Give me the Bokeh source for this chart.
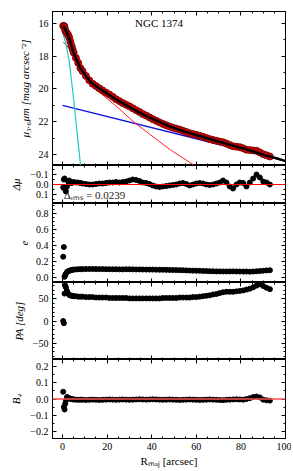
from bokeh.plotting import figure
from bokeh.models import Range1d, LinearAxis, FixedTicker, Label, Span
from bokeh.layouts import column
from bokeh.embed import file_html
from bokeh.resources import INLINE

# ---------------- data ----------------
R = [0.3, 0.6, 0.9, 1.2, 1.5, 2.0, 2.5, 3.0, 3.5, 4.0, 4.5, 5.0,
     6.0, 7.0, 8.0, 9.0, 10.5, 12.0, 13.5, 15.0, 16.5, 18.0, 19.5, 21.0,
     22.5, 24.0, 25.5, 27.0, 28.5, 30.0, 31.5, 33.0, 34.5, 36.0, 37.5, 39.0,
     40.5, 42.0, 43.5, 45.0, 46.5, 48.0, 49.5, 51.0, 52.5, 54.0, 55.5, 57.0,
     58.5, 60.0, 61.5, 63.0, 64.5, 66.0, 67.5, 69.0, 70.5, 72.0, 73.5, 75.0,
     76.5, 78.0, 79.5, 81.0, 82.5, 84.0, 85.5, 87.0, 88.5, 90.0, 91.5, 93.0]

mu_data = [16.15, 16.15, 16.21, 16.41, 16.51, 16.60, 16.71, 16.86, 17.10, 17.34, 17.56, 17.78,
           18.10, 18.40, 18.72, 18.91, 19.20, 19.47, 19.68, 19.82, 19.96, 20.09, 20.22, 20.34,
           20.48, 20.62, 20.74, 20.86, 20.96, 21.06, 21.17, 21.29, 21.40, 21.53, 21.62, 21.73,
           21.84, 21.94, 22.04, 22.13, 22.21, 22.29, 22.36, 22.42, 22.48, 22.55, 22.62, 22.70,
           22.75, 22.80, 22.86, 22.92, 22.99, 23.06, 23.11, 23.16, 23.21, 23.25, 23.33, 23.42,
           23.50, 23.52, 23.55, 23.62, 23.71, 23.73, 23.75, 23.77, 23.87, 23.98, 24.05, 24.12]

dmu = [0.03, -0.05, -0.06, 0.05, 0.07, 0.02, -0.03, -0.04, -0.02, -0.015, -0.02, -0.025,
       -0.02, -0.02, -0.015, -0.01, -0.005, 0.0, 0.0, -0.005, -0.01, -0.01, -0.015, -0.02,
       -0.02, -0.025, -0.02, -0.025, -0.03, -0.04, -0.05, -0.045, -0.035, -0.02, -0.015, -0.005,
       0.01, 0.02, 0.025, 0.02, 0.015, 0.01, 0.005, 0.0, -0.01, -0.015, -0.005, 0.01,
       0.0, -0.01, -0.015, -0.01, 0.0, 0.005, 0.0, -0.01, -0.02, -0.04, -0.02, 0.02,
       0.04, 0.0, -0.02, -0.015, 0.02, -0.02, -0.06, -0.1, -0.07, -0.03, -0.02, 0.0]

ell = [0.26, 0.38, 0.01, 0.03, 0.05, 0.07, 0.08, 0.085, 0.09, 0.095, 0.098, 0.10,
       0.102, 0.104, 0.105, 0.106, 0.107, 0.108, 0.108, 0.107, 0.106, 0.106, 0.105, 0.105,
       0.104, 0.104, 0.103, 0.103, 0.104, 0.104, 0.103, 0.102, 0.102, 0.101, 0.10, 0.10,
       0.10, 0.099, 0.098, 0.098, 0.097, 0.096, 0.095, 0.094, 0.093, 0.092, 0.090, 0.088,
       0.087, 0.086, 0.085, 0.083, 0.082, 0.080, 0.079, 0.078, 0.078, 0.077, 0.077, 0.078,
       0.078, 0.077, 0.076, 0.075, 0.076, 0.074, 0.076, 0.079, 0.082, 0.086, 0.090, 0.092]

pa = [0, -5, 62, 80, 76, 68, 62, 59, 58, 57, 57, 56,
      56, 55, 55, 55, 54, 54, 54, 53, 53, 53, 53, 52,
      52, 52, 52, 52, 52, 51, 51, 51, 51, 51, 51, 51,
      51, 51, 51, 52, 52, 52, 52, 52, 53, 53, 53, 53,
      54, 54, 55, 56, 57, 58, 60, 61, 63, 65, 66, 66,
      66, 67, 68, 69, 71, 73, 76, 80, 83, 79, 75, 72]

b4 = [0.045, -0.05, -0.065, -0.03, -0.01, 0.012, 0.008, 0.004, 0.002, 0.0, -0.002, -0.003,
      -0.004, -0.005, -0.004, -0.005, -0.006, -0.005, -0.004, -0.005, -0.006, -0.005, -0.004, -0.003,
      -0.004, -0.005, -0.004, -0.003, -0.004, -0.005, -0.004, -0.003, -0.002, -0.003, -0.004, -0.003,
      -0.002, -0.003, -0.004, -0.005, -0.004, -0.003, -0.004, -0.005, -0.006, -0.005, -0.004, -0.003,
      -0.004, -0.005, -0.006, -0.005, -0.004, -0.003, -0.004, -0.005, -0.006, -0.007, -0.005, -0.004,
      -0.003, -0.002, -0.003, -0.004, 0.0, 0.005, 0.012, 0.015, 0.01, -0.004, -0.008, -0.01]

# total model (black)
model_r = [0.3, 1, 2, 3, 4, 5, 6, 7, 8, 9, 10.5, 12, 13.5, 15, 16.5, 18, 20, 22.5, 24.5, 27,
           30, 33, 36.5, 40, 44, 48.4, 52, 56, 61, 66, 71, 76, 81, 86, 91, 96, 100]
model_mu = [16.12, 16.3, 16.58, 16.9, 17.35, 17.8, 18.12, 18.42, 18.73, 18.92, 19.2, 19.47,
            19.68, 19.82, 19.97, 20.1, 20.27, 20.5, 20.68, 20.88, 21.1, 21.33, 21.58, 21.8,
            22.05, 22.3, 22.47, 22.65, 22.85, 23.05, 23.25, 23.44, 23.63, 23.83, 24.05, 24.23, 24.4]
# Sersic component (red)
sersic_r = [0.3, 2, 5, 8, 12, 15, 18.5, 24.5, 32, 39.5, 48.4, 54, 59.5]
sersic_mu = [17.15, 17.36, 17.94, 18.82, 19.65, 20.05, 20.42, 21.1, 22.02, 22.8, 23.72, 24.21, 24.7]
# exponential disc (blue)
disk_r = [0, 100]
disk_mu = [21.0, 24.4]
# inner component (cyan)
bulge_r = [0.3, 1.5, 3, 4.3, 5.5, 6.8, 8.1]
bulge_mu = [16.65, 17.25, 18.3, 19.8, 21.3, 23.0, 24.7]
# inner grey component
psf_r = [0.0, 1.0, 2.0, 3.0]
psf_mu = [16.45, 16.65, 16.9, 17.25]

x_ticks = [0, 20, 40, 60, 80, 100]
x_labels = ["0", "20", "40", "60", "80", "100"]
mu_ticks = [16, 18, 20, 22, 24]
mu_labels = ["16", "18", "20", "22", "24"]
dmu_ticks = [-0.1, 0.0, 0.1]
dmu_labels = ["\u22120.1", "0.0", "0.1"]
e_ticks = [0.0, 0.2, 0.4, 0.6, 0.8]
e_labels = ["0.0", "0.2", "0.4", "0.6", "0.8"]
pa_ticks = [-50, 0, 50]
pa_labels = ["\u221250", "0", "50"]
b4_ticks = [-0.2, -0.1, 0.0, 0.1, 0.2]
b4_labels = ["\u22120.2", "\u22120.1", "0.0", "0.1", "0.2"]

title_text = "NGC 1374"
rms_text = "\u0394\u1d63\u2098\u209b = 0.0239"

# ---------------- styling ----------------
FONT = "Liberation Serif"
FW = 233
xr = Range1d(-4.5, 100)


def overrides(ticks, labels):
    return {(int(t) if float(t).is_integer() else t): l for t, l in zip(ticks, labels)}


def style_axis(ax, ticks, minor, labels, show_labels):
    ax.ticker = FixedTicker(ticks=ticks, minor_ticks=minor)
    ax.major_tick_in = 4
    ax.major_tick_out = 0
    ax.minor_tick_in = 2
    ax.minor_tick_out = 0
    ax.axis_line_color = "black"
    ax.major_tick_line_color = "black"
    ax.minor_tick_line_color = "black"
    ax.major_label_text_font = FONT
    if show_labels:
        ax.major_label_text_color = "black"
        ax.major_label_text_font_size = "10px"
        ax.major_label_standoff = 4
        ax.major_label_overrides = overrides(ticks, labels)
    else:
        ax.major_label_text_color = None
        ax.major_label_text_font_size = "0px"
        ax.major_label_standoff = 0
    ax.axis_label_text_font = FONT
    ax.axis_label_text_font_size = "11px"
    ax.axis_label_text_font_style = "italic"
    ax.axis_label_text_color = "black"


def panel(frame_h, yr, yticks, yminor, ylabels, ylabel, bottom=False, top=0):
    p = figure(frame_width=FW, frame_height=frame_h, x_range=xr, y_range=yr,
               output_backend="svg", toolbar_location=None,
               min_border_left=52, min_border_right=6, min_border_top=top,
               min_border_bottom=0)
    p.grid.visible = False
    p.outline_line_color = "black"
    p.background_fill_color = "white"
    p.border_fill_color = "white"
    x_minor = list(range(-5, 101, 5))
    style_axis(p.below[0], x_ticks, x_minor, x_labels, bottom)
    style_axis(p.left[0], yticks, yminor, ylabels, True)
    p.left[0].axis_label = ylabel
    p.left[0].axis_label_standoff = 5
    ra = LinearAxis()
    style_axis(ra, yticks, yminor, ylabels, False)
    p.add_layout(ra, "right")
    ta = LinearAxis()
    style_axis(ta, x_ticks, x_minor, x_labels, False)
    p.add_layout(ta, "above")
    return p


# ---- panel 1: surface brightness ----
p1 = panel(154, Range1d(24.67, 15.27), mu_ticks, list(range(15, 26)), mu_labels,
           "\u03bc\u2083.\u2086\u03bcm [mag arcsec\u207b\u00b2]", top=11)
p1.line(disk_r, disk_mu, line_color="#1010e0", line_width=1.5)
p1.line(sersic_r, sersic_mu, line_color="#ff2020", line_width=1)
p1.line(bulge_r, bulge_mu, line_color="#20c8c8", line_width=1.2)
p1.line(psf_r, psf_mu, line_color="#808080", line_width=1)
p1.scatter(R, mu_data, size=7, fill_color="#d40000", line_color="#700000", line_width=0.8)
p1.line(model_r, model_mu, line_color="black", line_width=2.5)
p1.add_layout(Label(x=32.5, y=16.0, text=title_text, text_baseline="middle",
                    text_font=FONT, text_font_size="11px", text_color="black"))

# ---- panel 2: residuals ----
p2 = panel(38, Range1d(0.19, -0.19), dmu_ticks, [-0.15, -0.05, 0.05, 0.15], dmu_labels,
           "\u0394\u03bc")
p2.add_layout(Span(location=0, dimension="width", line_color="red", line_width=1.2))
p2.scatter(R, dmu, size=5, fill_color="black", line_color="black")
p2.add_layout(Label(x=0.5, y=0.105, text=rms_text, text_baseline="middle",
                    text_font=FONT, text_font_size="11px", text_color="#222222"))

# ---- panel 3: ellipticity ----
p3 = panel(79, Range1d(-0.06, 0.92), e_ticks, [i / 20 for i in range(0, 19)], e_labels, "e")
p3.scatter(R, ell, size=5, fill_color="black", line_color="black")

# ---- panel 4: position angle ----
p4 = panel(77, Range1d(-87, 87), pa_ticks, list(range(-80, 90, 10)), pa_labels, "PA [deg]")
p4.scatter(R, pa, size=5, fill_color="black", line_color="black")

# ---- panel 5: B4 ----
p5 = panel(79, Range1d(-0.245, 0.245), b4_ticks, [i / 20 for i in range(-4, 5)], b4_labels,
           "B\u2084", bottom=True)
p5.add_layout(Span(location=0, dimension="width", line_color="#ff5050", line_width=1.5))
p5.scatter(R, b4, size=5, fill_color="black", line_color="black")
p5.below[0].axis_label = "R\u2098\u2090\u2c7c [arcsec]"
p5.below[0].axis_label_text_font_style = "normal"
p5.below[0].axis_label_standoff = 2
p5.min_border_bottom = 4

layout = column(p1, p2, p3, p4, p5, spacing=0)
open("out.html", "w").write(file_html(layout, INLINE))
